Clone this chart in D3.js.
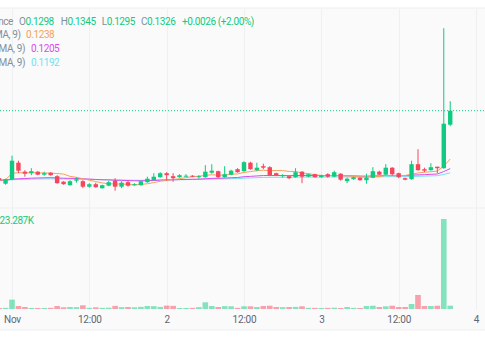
<!DOCTYPE html>
<html>
<head>
<meta charset="utf-8">
<script src="https://cdn.jsdelivr.net/npm/d3@7"></script>
<style>
  html, body { margin: 0; padding: 0; background: #fff; }
  svg { display: block; font-family: Roboto, "Noto Sans", sans-serif; }
</style>
</head>
<body>
<svg id="chart" width="485" height="360"></svg>
<script>
// hourly candles, first one starts 31 Oct 22:00 (partly off screen)
const startTime = '2023-10-31T22:00:00Z';

const opens = [0.1191, 0.1180, 0.1189, 0.1222, 0.1204, 0.1201, 0.1204, 0.1198, 0.1202, 0.1195,
  0.1184, 0.1177, 0.1186, 0.1185, 0.1174, 0.1179, 0.1171, 0.1176, 0.1186, 0.1174,
  0.1183, 0.1177, 0.1177, 0.1183, 0.1187, 0.1193, 0.1201, 0.1195, 0.1193, 0.1195,
  0.1196, 0.1193, 0.1193, 0.1202, 0.1205, 0.1193, 0.1198, 0.1209, 0.1205, 0.1222,
  0.1207, 0.1215, 0.1213, 0.1201, 0.1195, 0.1195, 0.1193, 0.1204, 0.1194, 0.1199,
  0.1193, 0.1199, 0.1194, 0.1200, 0.1185, 0.1189, 0.1192, 0.1187, 0.1192, 0.1204,
  0.1198, 0.1212, 0.1201, 0.1191, 0.1189, 0.1219, 0.1209, 0.1207, 0.1214, 0.1211,
  0.1298];
const highs = [0.1193, 0.1190, 0.1236, 0.1226, 0.1207, 0.1211, 0.1205, 0.1204, 0.1203, 0.1197,
  0.1185, 0.1187, 0.1193, 0.1187, 0.1181, 0.1182, 0.1178, 0.1186, 0.1191, 0.1185,
  0.1187, 0.1181, 0.1186, 0.1194, 0.1201, 0.1203, 0.1203, 0.1201, 0.1199, 0.1199,
  0.1197, 0.1197, 0.1217, 0.1219, 0.1206, 0.1215, 0.1208, 0.1211, 0.1225, 0.1224,
  0.1222, 0.1220, 0.1215, 0.1202, 0.1199, 0.1196, 0.1211, 0.1205, 0.1200, 0.1200,
  0.1198, 0.1201, 0.1206, 0.1201, 0.1192, 0.1194, 0.1193, 0.1200, 0.1213, 0.1206,
  0.1219, 0.1213, 0.1202, 0.1192, 0.1226, 0.1249, 0.1212, 0.1221, 0.1214, 0.1491,
  0.1345];
const lows = [0.1185, 0.1178, 0.1187, 0.1201, 0.1194, 0.1197, 0.1197, 0.1196, 0.1196, 0.1180,
  0.1178, 0.1176, 0.1182, 0.1171, 0.1172, 0.1172, 0.1170, 0.1175, 0.1166, 0.1171,
  0.1174, 0.1176, 0.1176, 0.1182, 0.1186, 0.1192, 0.1186, 0.1184, 0.1192, 0.1194,
  0.1193, 0.1190, 0.1192, 0.1200, 0.1191, 0.1192, 0.1197, 0.1202, 0.1204, 0.1208,
  0.1205, 0.1209, 0.1195, 0.1195, 0.1192, 0.1189, 0.1192, 0.1181, 0.1193, 0.1192,
  0.1192, 0.1192, 0.1193, 0.1186, 0.1181, 0.1188, 0.1186, 0.1180, 0.1191, 0.1197,
  0.1197, 0.1196, 0.1191, 0.1187, 0.1188, 0.1206, 0.1203, 0.1206, 0.1201, 0.1210,
  0.1295];
const closes = [0.1187, 0.1189, 0.1226, 0.1206, 0.1200, 0.1205, 0.1198, 0.1201, 0.1197, 0.1181,
  0.1179, 0.1185, 0.1189, 0.1174, 0.1179, 0.1173, 0.1177, 0.1183, 0.1174, 0.1182,
  0.1176, 0.1179, 0.1185, 0.1190, 0.1194, 0.1201, 0.1197, 0.1191, 0.1197, 0.1196,
  0.1194, 0.1195, 0.1204, 0.1206, 0.1193, 0.1199, 0.1206, 0.1203, 0.1223, 0.1209,
  0.1212, 0.1212, 0.1197, 0.1197, 0.1197, 0.1191, 0.1203, 0.1194, 0.1199, 0.1193,
  0.1197, 0.1194, 0.1203, 0.1188, 0.1190, 0.1193, 0.1187, 0.1192, 0.1205, 0.1198,
  0.1212, 0.1199, 0.1193, 0.1188, 0.1219, 0.1207, 0.1206, 0.1213, 0.1211, 0.1300,
  0.1326];
// volume in thousands
const volumes = [7, 8, 66, 21, 14, 7, 7, 7, 8, 21,
  12, 14, 13, 26, 8, 12, 8, 9, 22, 13,
  14, 12, 15, 21, 20, 15, 24, 22, 7, 7,
  8, 13, 47, 21, 14, 20, 19, 8, 19, 19,
  14, 21, 23, 14, 13, 14, 15, 19, 8, 8,
  7, 8, 9, 7, 14, 8, 7, 21, 23, 14,
  19, 23, 14, 14, 35, 99, 21, 21, 23, 635,
  23.287];

const tickTimes = ['2023-11-01T00:00:00Z', '2023-11-01T12:00:00Z', '2023-11-02T00:00:00Z',
  '2023-11-02T12:00:00Z', '2023-11-03T00:00:00Z', '2023-11-03T12:00:00Z', '2023-11-04T00:00:00Z'];
const tickLabels = ['Nov', '12:00', '2', '12:00', '3', '12:00', '4'];

const maLabels = ['MA (MA, 9)', 'EMA (EMA, 9)', 'WMA (WMA, 9)'];
const maValues = ['0.1238', '0.1205', '0.1192'];

const up = '#0ecb81';
const down = '#f6465d';
const maColors = ['#f3a35a', '#d94bef', '#72e2f2'];

const width = 485;
const height = 360;

const svg = d3.select('#chart');

const times = opens.map((_, i) => d3.utcHour.offset(new Date(startTime), i));
const candles = times.map((t, i) => ({
  t, o: opens[i], h: highs[i], l: lows[i], c: closes[i], v: volumes[i]
}));

const x = d3.scaleUtc()
  .domain([new Date(tickTimes[0]), new Date(tickTimes[tickTimes.length - 1])])
  .range([12, 476]);
const y = d3.scaleLinear().domain([0.115, 0.15]).range([198.7, 23.7]);
const yVol = d3.scaleLinear().domain([0, 635]).range([309, 219]);

// background + pane borders
svg.append('rect').attr('x', 0).attr('y', 8).attr('width', width).attr('height', 322)
  .attr('fill', '#fafafa');
[8, 208, 330].forEach((yy) => {
  svg.append('line').attr('x1', 0).attr('x2', width).attr('y1', yy).attr('y2', yy)
    .attr('stroke', '#eceef1');
});

// vertical grid
svg.append('g').selectAll('line')
  .data(tickTimes)
  .join('line')
  .attr('x1', (d) => Math.round(x(new Date(d))) + 0.5)
  .attr('x2', (d) => Math.round(x(new Date(d))) + 0.5)
  .attr('y1', 9).attr('y2', 310)
  .attr('stroke', '#eef0f2');

svg.append('clipPath').attr('id', 'clip')
  .append('rect').attr('x', 0).attr('y', 9).attr('width', width).attr('height', 300);

const plot = svg.append('g').attr('clip-path', 'url(#clip)');

// moving averages built from the closes
function sma(vals, n) {
  return vals.map((_, i) => d3.mean(vals.slice(Math.max(0, i - n + 1), i + 1)));
}
function ema(vals, n) {
  const k = 2 / (n + 1);
  let prev = vals[0];
  return vals.map((v) => (prev = v * k + prev * (1 - k)));
}
const maSeries = [sma(closes, 9), ema(closes, 40), ema(closes, 80)];

const line = d3.line().x((d, i) => x(times[i])).y((d) => y(d));
plot.selectAll('path.ma')
  .data([maSeries[2], maSeries[1], maSeries[0]])
  .join('path')
  .attr('class', 'ma')
  .attr('d', line)
  .attr('fill', 'none')
  .attr('stroke', (d, i) => [maColors[2], maColors[1], maColors[0]][i])
  .attr('stroke-width', 1);

// volume bars
plot.append('g').selectAll('rect')
  .data(candles)
  .join('rect')
  .attr('x', (d) => x(d.t) - 2.8)
  .attr('width', 5.6)
  .attr('y', (d) => yVol(d.v))
  .attr('height', (d) => yVol(0) - yVol(d.v))
  .attr('fill', (d) => (d.c >= d.o ? up : down))
  .attr('fill-opacity', 0.5);

// candles
const cg = plot.append('g').selectAll('g')
  .data(candles)
  .join('g')
  .attr('fill', (d) => (d.c >= d.o ? up : down))
  .attr('stroke', (d) => (d.c >= d.o ? up : down));

cg.append('line')
  .attr('x1', (d) => x(d.t)).attr('x2', (d) => x(d.t))
  .attr('y1', (d) => y(d.h)).attr('y2', (d) => y(d.l))
  .attr('stroke-width', 1);

cg.append('rect')
  .attr('stroke', 'none')
  .attr('x', (d) => x(d.t) - 2.2)
  .attr('width', 4.4)
  .attr('y', (d) => y(Math.max(d.o, d.c)))
  .attr('height', (d) => Math.max(1, Math.abs(y(d.o) - y(d.c))));

// last price line
const last = candles[candles.length - 1];
const prev = candles[candles.length - 2];
svg.append('line')
  .attr('x1', 0).attr('x2', width)
  .attr('y1', y(last.c)).attr('y2', y(last.c))
  .attr('stroke', up)
  .attr('stroke-dasharray', '1 2');

// time axis
const axis = d3.axisBottom(x)
  .tickValues(tickTimes.map((d) => new Date(d)))
  .tickFormat((d, i) => tickLabels[i])
  .tickSize(0)
  .tickPadding(0);
const ax = svg.append('g').attr('transform', 'translate(0,316)').call(axis);
ax.select('.domain').remove();
ax.selectAll('text')
  .attr('font-size', 10)
  .attr('font-family', 'Roboto, "Noto Sans", sans-serif')
  .attr('letter-spacing', '-0.2px')
  .attr('fill', '#5e6673')
  .attr('dy', '0.71em');

// legend
const grey = '#848e9c';
const lg = svg.append('g').attr('font-size', 10).attr('letter-spacing', '-0.4px');
lg.append('text').attr('x', 13).attr('y', 24.5).attr('text-anchor', 'end')
  .attr('fill', grey).text('DOGE/USDT · 1h · Binance');
const ohlc = [['O', last.o.toFixed(4), 19], ['H', last.h.toFixed(4), 60.7],
  ['L', last.l.toFixed(4), 101.7], ['C', last.c.toFixed(4), 141]];
ohlc.forEach(([k, v, px]) => {
  const t = lg.append('text').attr('x', px).attr('y', 24.5);
  t.append('tspan').attr('fill', grey).text(k);
  t.append('tspan').attr('fill', up).text(v);
});
const chg = last.c - prev.c;
lg.append('text').attr('x', 182).attr('y', 24.5).attr('fill', up)
  .text(`+${chg.toFixed(4)} (+${(chg / prev.c * 100).toFixed(2)}%)`);

const rowY = [38, 52, 65.5];
const labelEnd = [20.5, 25, 25];
const valueX = [26, 31, 31];
maLabels.forEach((lab, i) => {
  lg.append('text').attr('x', labelEnd[i]).attr('y', rowY[i]).attr('text-anchor', 'end')
    .attr('fill', grey).text(lab);
  lg.append('text').attr('x', valueX[i]).attr('y', rowY[i])
    .attr('fill', maColors[i]).text(maValues[i]);
});

// volume legend
svg.append('text').attr('x', -0.5).attr('y', 224).attr('font-size', 10)
  .attr('letter-spacing', '-0.4px')
  .attr('fill', up).text(`${d3.format('.3f')(last.v)}K`);
</script>
</body>
</html>
